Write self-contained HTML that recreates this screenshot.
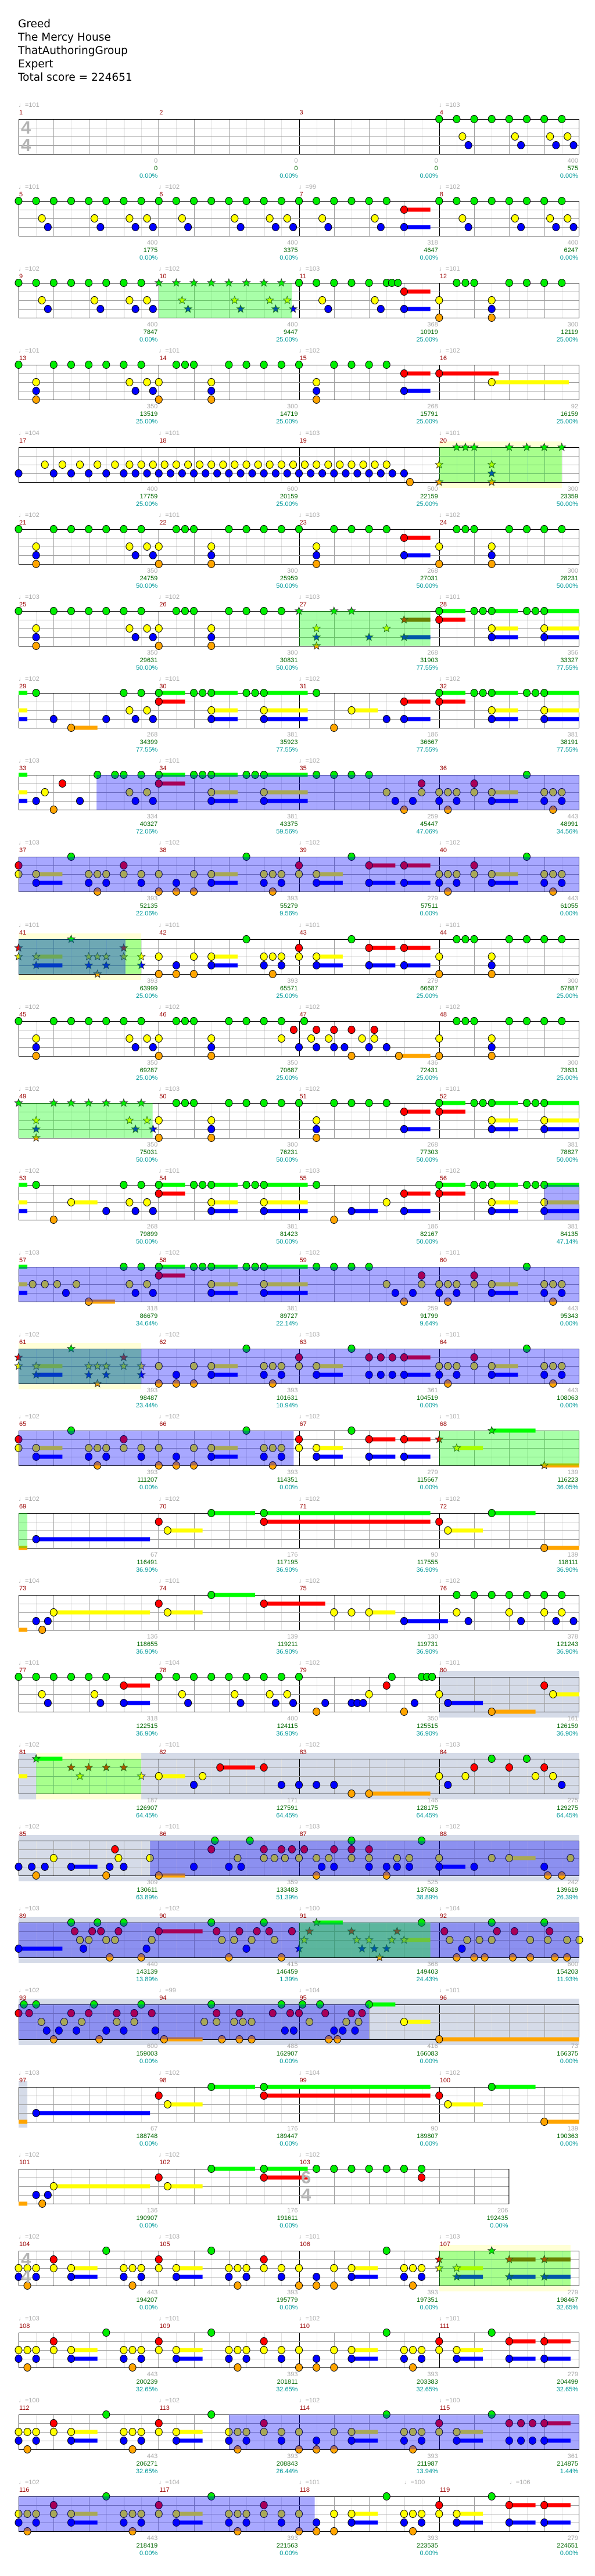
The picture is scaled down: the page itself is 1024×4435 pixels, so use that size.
<!DOCTYPE html>
<html><head><meta charset="utf-8">
<style>
html,body{margin:0;padding:0;background:#fff;width:1024px;height:4435px;overflow:hidden;position:relative}
#g{position:absolute;left:0;top:0;z-index:0}
.t{position:absolute;left:31px;top:30px;font:18.5px/23px "DejaVu Sans",sans-serif;color:#000;z-index:2}
.r{position:absolute;left:32px;width:965px;height:1px;z-index:2}
.m{position:absolute;top:0;width:241.25px;height:1px}
.m:nth-child(2){left:241.25px}.m:nth-child(3){left:482.5px}.m:nth-child(4){left:723.75px}
.m i{position:absolute;left:0;top:-30px;font:11px/12px "Liberation Sans","DejaVu Sans",sans-serif;color:#aaa;font-style:normal;white-space:nowrap}
.m b{position:absolute;left:1px;top:-17px;font:11px/12px "Liberation Sans",sans-serif;color:#900;font-weight:normal}
.m p{position:absolute;right:2px;top:66px;margin:0;text-align:right;font:11px/13px "Liberation Sans",sans-serif;color:#aaa;white-space:nowrap}
.m p em{color:#060;font-style:normal}.m p u{color:#099;text-decoration:none}
.ts{position:absolute;font:bold 31px/30px "Liberation Sans",sans-serif;color:#b4b4b4;z-index:3}
</style></head><body>
<svg id="g" width="1024" height="4435" xmlns="http://www.w3.org/2000/svg"></svg>
<div class="t">Greed<br>The Mercy House<br>ThatAuthoringGroup<br>Expert<br>Total score = 224651</div>
<div class="ts" style="left:36px;top:205px">4<br>4</div>
<div class="ts" style="left:518px;top:3734px">6<br>4</div>
<div class="ts" style="left:36px;top:3875px">4<br>4</div>

<div class="r" style="top:205px"><div class="m"><i>♩=101</i><b>1</b><p>0<br><em>0</em><br><u>0.00%</u></p></div><div class="m"><b>2</b><p>0<br><em>0</em><br><u>0.00%</u></p></div><div class="m"><b>3</b><p>0<br><em>0</em><br><u>0.00%</u></p></div><div class="m"><i>♩=103</i><b>4</b><p>400<br><em>575</em><br><u>0.00%</u></p></div></div>
<div class="r" style="top:346px"><div class="m"><i>♩=101</i><b>5</b><p>400<br><em>1775</em><br><u>0.00%</u></p></div><div class="m"><i>♩=102</i><b>6</b><p>400<br><em>3375</em><br><u>0.00%</u></p></div><div class="m"><i>♩=99</i><b>7</b><p>318<br><em>4647</em><br><u>0.00%</u></p></div><div class="m"><i>♩=102</i><b>8</b><p>400<br><em>6247</em><br><u>0.00%</u></p></div></div>
<div class="r" style="top:487px"><div class="m"><i>♩=102</i><b>9</b><p>400<br><em>7847</em><br><u>0.00%</u></p></div><div class="m"><i>♩=102</i><b>10</b><p>400<br><em>9447</em><br><u>25.00%</u></p></div><div class="m"><i>♩=103</i><b>11</b><p>368<br><em>10919</em><br><u>25.00%</u></p></div><div class="m"><i>♩=101</i><b>12</b><p>300<br><em>12119</em><br><u>25.00%</u></p></div></div>
<div class="r" style="top:628px"><div class="m"><i>♩=101</i><b>13</b><p>350<br><em>13519</em><br><u>25.00%</u></p></div><div class="m"><i>♩=101</i><b>14</b><p>300<br><em>14719</em><br><u>25.00%</u></p></div><div class="m"><i>♩=102</i><b>15</b><p>268<br><em>15791</em><br><u>25.00%</u></p></div><div class="m"><i>♩=102</i><b>16</b><p>92<br><em>16159</em><br><u>25.00%</u></p></div></div>
<div class="r" style="top:770px"><div class="m"><i>♩=104</i><b>17</b><p>400<br><em>17759</em><br><u>25.00%</u></p></div><div class="m"><i>♩=101</i><b>18</b><p>600<br><em>20159</em><br><u>25.00%</u></p></div><div class="m"><i>♩=103</i><b>19</b><p>500<br><em>22159</em><br><u>25.00%</u></p></div><div class="m"><i>♩=101</i><b>20</b><p>300<br><em>23359</em><br><u>50.00%</u></p></div></div>
<div class="r" style="top:911px"><div class="m"><i>♩=102</i><b>21</b><p>350<br><em>24759</em><br><u>50.00%</u></p></div><div class="m"><i>♩=101</i><b>22</b><p>300<br><em>25959</em><br><u>50.00%</u></p></div><div class="m"><i>♩=103</i><b>23</b><p>268<br><em>27031</em><br><u>50.00%</u></p></div><div class="m"><i>♩=102</i><b>24</b><p>300<br><em>28231</em><br><u>50.00%</u></p></div></div>
<div class="r" style="top:1052px"><div class="m"><i>♩=103</i><b>25</b><p>350<br><em>29631</em><br><u>50.00%</u></p></div><div class="m"><i>♩=102</i><b>26</b><p>300<br><em>30831</em><br><u>50.00%</u></p></div><div class="m"><i>♩=103</i><b>27</b><p>268<br><em>31903</em><br><u>77.55%</u></p></div><div class="m"><i>♩=101</i><b>28</b><p>356<br><em>33327</em><br><u>77.55%</u></p></div></div>
<div class="r" style="top:1193px"><div class="m"><i>♩=102</i><b>29</b><p>268<br><em>34399</em><br><u>77.55%</u></p></div><div class="m"><i>♩=101</i><b>30</b><p>381<br><em>35923</em><br><u>77.55%</u></p></div><div class="m"><i>♩=102</i><b>31</b><p>186<br><em>36667</em><br><u>77.55%</u></p></div><div class="m"><i>♩=102</i><b>32</b><p>381<br><em>38191</em><br><u>77.55%</u></p></div></div>
<div class="r" style="top:1334px"><div class="m"><i>♩=103</i><b>33</b><p>334<br><em>40327</em><br><u>72.06%</u></p></div><div class="m"><i>♩=101</i><b>34</b><p>381<br><em>43375</em><br><u>59.56%</u></p></div><div class="m"><i>♩=102</i><b>35</b><p>259<br><em>45447</em><br><u>47.06%</u></p></div><div class="m"><b>36</b><p>443<br><em>48991</em><br><u>34.56%</u></p></div></div>
<div class="r" style="top:1475px"><div class="m"><i>♩=103</i><b>37</b><p>393<br><em>52135</em><br><u>22.06%</u></p></div><div class="m"><i>♩=102</i><b>38</b><p>393<br><em>55279</em><br><u>9.56%</u></p></div><div class="m"><i>♩=102</i><b>39</b><p>279<br><em>57511</em><br><u>0.00%</u></p></div><div class="m"><i>♩=102</i><b>40</b><p>443<br><em>61055</em><br><u>0.00%</u></p></div></div>
<div class="r" style="top:1617px"><div class="m"><i>♩=101</i><b>41</b><p>393<br><em>63999</em><br><u>25.00%</u></p></div><div class="m"><i>♩=101</i><b>42</b><p>393<br><em>65571</em><br><u>25.00%</u></p></div><div class="m"><i>♩=101</i><b>43</b><p>279<br><em>66687</em><br><u>25.00%</u></p></div><div class="m"><i>♩=101</i><b>44</b><p>300<br><em>67887</em><br><u>25.00%</u></p></div></div>
<div class="r" style="top:1758px"><div class="m"><i>♩=102</i><b>45</b><p>350<br><em>69287</em><br><u>25.00%</u></p></div><div class="m"><i>♩=102</i><b>46</b><p>350<br><em>70687</em><br><u>25.00%</u></p></div><div class="m"><i>♩=102</i><b>47</b><p>436<br><em>72431</em><br><u>25.00%</u></p></div><div class="m"><i>♩=102</i><b>48</b><p>300<br><em>73631</em><br><u>25.00%</u></p></div></div>
<div class="r" style="top:1899px"><div class="m"><i>♩=102</i><b>49</b><p>350<br><em>75031</em><br><u>50.00%</u></p></div><div class="m"><i>♩=103</i><b>50</b><p>300<br><em>76231</em><br><u>50.00%</u></p></div><div class="m"><i>♩=102</i><b>51</b><p>268<br><em>77303</em><br><u>50.00%</u></p></div><div class="m"><i>♩=101</i><b>52</b><p>381<br><em>78827</em><br><u>50.00%</u></p></div></div>
<div class="r" style="top:2040px"><div class="m"><i>♩=102</i><b>53</b><p>268<br><em>79899</em><br><u>50.00%</u></p></div><div class="m"><i>♩=101</i><b>54</b><p>381<br><em>81423</em><br><u>50.00%</u></p></div><div class="m"><i>♩=103</i><b>55</b><p>186<br><em>82167</em><br><u>50.00%</u></p></div><div class="m"><i>♩=102</i><b>56</b><p>381<br><em>84135</em><br><u>47.14%</u></p></div></div>
<div class="r" style="top:2181px"><div class="m"><i>♩=103</i><b>57</b><p>318<br><em>86679</em><br><u>34.64%</u></p></div><div class="m"><i>♩=102</i><b>58</b><p>381<br><em>89727</em><br><u>22.14%</u></p></div><div class="m"><i>♩=102</i><b>59</b><p>259<br><em>91799</em><br><u>9.64%</u></p></div><div class="m"><i>♩=101</i><b>60</b><p>443<br><em>95343</em><br><u>0.00%</u></p></div></div>
<div class="r" style="top:2322px"><div class="m"><i>♩=102</i><b>61</b><p>393<br><em>98487</em><br><u>23.44%</u></p></div><div class="m"><i>♩=102</i><b>62</b><p>393<br><em>101631</em><br><u>10.94%</u></p></div><div class="m"><i>♩=103</i><b>63</b><p>361<br><em>104519</em><br><u>0.00%</u></p></div><div class="m"><i>♩=101</i><b>64</b><p>443<br><em>108063</em><br><u>0.00%</u></p></div></div>
<div class="r" style="top:2463px"><div class="m"><i>♩=102</i><b>65</b><p>393<br><em>111207</em><br><u>0.00%</u></p></div><div class="m"><i>♩=102</i><b>66</b><p>393<br><em>114351</em><br><u>0.00%</u></p></div><div class="m"><i>♩=102</i><b>67</b><p>279<br><em>115667</em><br><u>0.00%</u></p></div><div class="m"><i>♩=101</i><b>68</b><p>139<br><em>116223</em><br><u>36.05%</u></p></div></div>
<div class="r" style="top:2605px"><div class="m"><i>♩=102</i><b>69</b><p>67<br><em>116491</em><br><u>36.90%</u></p></div><div class="m"><i>♩=102</i><b>70</b><p>176<br><em>117195</em><br><u>36.90%</u></p></div><div class="m"><i>♩=102</i><b>71</b><p>90<br><em>117555</em><br><u>36.90%</u></p></div><div class="m"><i>♩=102</i><b>72</b><p>139<br><em>118111</em><br><u>36.90%</u></p></div></div>
<div class="r" style="top:2746px"><div class="m"><i>♩=104</i><b>73</b><p>136<br><em>118655</em><br><u>36.90%</u></p></div><div class="m"><i>♩=101</i><b>74</b><p>139<br><em>119211</em><br><u>36.90%</u></p></div><div class="m"><i>♩=102</i><b>75</b><p>130<br><em>119731</em><br><u>36.90%</u></p></div><div class="m"><i>♩=102</i><b>76</b><p>378<br><em>121243</em><br><u>36.90%</u></p></div></div>
<div class="r" style="top:2887px"><div class="m"><i>♩=101</i><b>77</b><p>318<br><em>122515</em><br><u>36.90%</u></p></div><div class="m"><i>♩=104</i><b>78</b><p>400<br><em>124115</em><br><u>36.90%</u></p></div><div class="m"><i>♩=102</i><b>79</b><p>350<br><em>125515</em><br><u>36.90%</u></p></div><div class="m"><i>♩=101</i><b>80</b><p>161<br><em>126159</em><br><u>36.90%</u></p></div></div>
<div class="r" style="top:3028px"><div class="m"><i>♩=102</i><b>81</b><p>187<br><em>126907</em><br><u>64.45%</u></p></div><div class="m"><i>♩=101</i><b>82</b><p>171<br><em>127591</em><br><u>64.45%</u></p></div><div class="m"><i>♩=102</i><b>83</b><p>146<br><em>128175</em><br><u>64.45%</u></p></div><div class="m"><i>♩=103</i><b>84</b><p>275<br><em>129275</em><br><u>64.45%</u></p></div></div>
<div class="r" style="top:3169px"><div class="m"><i>♩=102</i><b>85</b><p>309<br><em>130611</em><br><u>63.89%</u></p></div><div class="m"><i>♩=101</i><b>86</b><p>359<br><em>133483</em><br><u>51.39%</u></p></div><div class="m"><i>♩=103</i><b>87</b><p>525<br><em>137683</em><br><u>38.89%</u></p></div><div class="m"><i>♩=102</i><b>88</b><p>242<br><em>139619</em><br><u>26.39%</u></p></div></div>
<div class="r" style="top:3310px"><div class="m"><i>♩=103</i><b>89</b><p>440<br><em>143139</em><br><u>13.89%</u></p></div><div class="m"><i>♩=102</i><b>90</b><p>415<br><em>146459</em><br><u>1.39%</u></p></div><div class="m"><i>♩=100</i><b>91</b><p>368<br><em>149403</em><br><u>24.43%</u></p></div><div class="m"><i>♩=104</i><b>92</b><p>600<br><em>154203</em><br><u>11.93%</u></p></div></div>
<div class="r" style="top:3451px"><div class="m"><i>♩=102</i><b>93</b><p>600<br><em>159003</em><br><u>0.00%</u></p></div><div class="m"><i>♩=99</i><b>94</b><p>488<br><em>162907</em><br><u>0.00%</u></p></div><div class="m"><i>♩=104</i><b>95</b><p>416<br><em>166083</em><br><u>0.00%</u></p></div><div class="m"><i>♩=101</i><b>96</b><p>73<br><em>166375</em><br><u>0.00%</u></p></div></div>
<div class="r" style="top:3593px"><div class="m"><i>♩=103</i><b>97</b><p>67<br><em>188748</em><br><u>0.00%</u></p></div><div class="m"><i>♩=102</i><b>98</b><p>176<br><em>189447</em><br><u>0.00%</u></p></div><div class="m"><i>♩=104</i><b>99</b><p>90<br><em>189807</em><br><u>0.00%</u></p></div><div class="m"><i>♩=102</i><b>100</b><p>139<br><em>190363</em><br><u>0.00%</u></p></div></div>
<div class="r" style="top:3734px"><div class="m"><i>♩=102</i><b>101</b><p>136<br><em>190907</em><br><u>0.00%</u></p></div><div class="m"><i>♩=102</i><b>102</b><p>176<br><em>191611</em><br><u>0.00%</u></p></div><div class="m" style="width:361.9px"><i>♩=102</i><b>103</b><p>206<br><em>192435</em><br><u>0.00%</u></p></div></div>
<div class="r" style="top:3875px"><div class="m"><i>♩=102</i><b>104</b><p>443<br><em>194207</em><br><u>0.00%</u></p></div><div class="m"><i>♩=103</i><b>105</b><p>393<br><em>195779</em><br><u>0.00%</u></p></div><div class="m"><i>♩=101</i><b>106</b><p>393<br><em>197351</em><br><u>0.00%</u></p></div><div class="m"><i>♩=103</i><b>107</b><p>279<br><em>198467</em><br><u>32.65%</u></p></div></div>
<div class="r" style="top:4016px"><div class="m"><i>♩=103</i><b>108</b><p>443<br><em>200239</em><br><u>32.65%</u></p></div><div class="m"><i>♩=101</i><b>109</b><p>393<br><em>201811</em><br><u>32.65%</u></p></div><div class="m"><i>♩=102</i><b>110</b><p>393<br><em>203383</em><br><u>32.65%</u></p></div><div class="m"><i>♩=101</i><b>111</b><p>279<br><em>204499</em><br><u>32.65%</u></p></div></div>
<div class="r" style="top:4157px"><div class="m"><i>♩=100</i><b>112</b><p>443<br><em>206271</em><br><u>32.65%</u></p></div><div class="m"><i>♩=102</i><b>113</b><p>393<br><em>208843</em><br><u>26.44%</u></p></div><div class="m"><i>♩=102</i><b>114</b><p>393<br><em>211987</em><br><u>13.94%</u></p></div><div class="m"><i>♩=100</i><b>115</b><p>361<br><em>214875</em><br><u>1.44%</u></p></div></div>
<div class="r" style="top:4298px"><div class="m"><i>♩=102</i><b>116</b><p>443<br><em>218419</em><br><u>0.00%</u></p></div><div class="m"><i>♩=104</i><b>117</b><p>393<br><em>221563</em><br><u>0.00%</u></p></div><div class="m"><i>♩=101</i><i style="left:181px">♩=100</i><b>118</b><p>393<br><em>223535</em><br><u>0.00%</u></p></div><div class="m"><i style="left:121px">♩=106</i><b>119</b><p>279<br><em>224651</em><br><u>0.00%</u></p></div></div>

<script>
(function(){
var X0=32,HW=965/32;
var col=['#00ee00','#ff0000','#ffff00','#0000ff','#ffa500'];
var bar=['#00ff00','#ff0000','#ffff00','#0000ff','#ffa500'];
var L={G:0,R:1,Y:2,B:3,O:4};
function A(o){return 'G'+o+':'+(o+7)+' Y'+(o+1.33)+' Y'+(o+4.33)+' Y'+(o+6.33)+' Y'+(o+7.33)+' B'+(o+1.67)+' B'+(o+4.67)+' B'+(o+6.67)+' B'+(o+7.67)+' ';}
var B2='G0 G2:7 G9 G9.5 G10 G12:15 Y1 Y6.33 Y7.33 Y8 Y11 B1 B6.67 B7.67 B11 O1 O8 O11 ';
var M24=' G25 G25.5 G26 G28:31 Y24 Y27 B27 O24 O27 ';
var C=' G24-25.5 G26 G26.5 G27-28.5 G29 G29.5 G30-32 R24-25.5 Y27-28.5 Y30-32 B27-28.5 B30-32 ';
var S='g3 r0 r6 y0 y1-2.5 y4 y4.5 y5 y6 y7 b1-2.5 b4 b5 b7 o4.5 ';
var R18='~O0-0.5 B1-7.5 R8 R14-23.5 R24 Y8.5-10.5 Y24.5-26.5 G11-13.5 G14-23.5 G27-29.5 O30-32';
var E='Y0 Y0.5 Y1 Y2 Y3-4.5 Y6 Y6.5 Y7 Y8 Y9-10.5 Y12 Y12.5 Y13 Y14 Y15 Y16 Y18 Y19-20.5 Y22 Y22.5 Y23 B0 B1 B3-4.5 B6 B7 B9-10.5 B12 B13 B15 B17 B19-20.5 B22 B23 R2 R8 R14 G5 G11 G21 O0.5 O6.5 O12.5 O16 O17 O18 O22.5 ';
var y5='Y1.5 Y2.5 Y3.5 Y4.5 Y5.5 Y6.33 Y7 Y7.67 Y8.33 Y9 Y9.67 Y10.33 Y11 Y11.67 Y12.33 Y13 Y13.67 Y14.33 Y15 Y15.67 Y16.33 Y17 Y17.67 Y18.33 Y19 Y19.67 Y20.33 Y21 B0 B2 B3 B4 B5 B6 B6.67 B7.33 B8 B8.67 B9.33 B10 B10.67 B11.33 B12 B12.67 B13.33 B14 B14.67 B15.33 B16 B16.67 B17.33 B18 B18.67 B19.33 B20 B20.67 B21.33 B22 O22.33 ';
var D='G3 G13 G19 G29 R0 R6 R16 R20-21.5 R22-23.5 R26 Y0 Y1-2.5 Y4 Y4.5 Y5 Y6 Y7 Y8 Y10 Y11-12.5 Y14 Y14.5 Y15 Y16 Y17-18.5 Y24 Y24.5 Y25 Y26 Y27-28.5 Y30 Y30.5 Y31 B1-2.5 B4 B5 B7 B9 B11-12.5 B14 B15 B17-18.5 B20-21.5 B22-23.5 B24 B25 B27-28.5 B30 B31 O4.5 O8 O9 O10 O14.5 O24.5 O30.5';
var rows=[
 {n:A(24)},
 {n:A(0)+A(8)+'G16:21 Y17.33 Y20.33 B17.67 B20.67 R22-23.5 B22-23.5 '+A(24)},
 {n:'G0:7 Y1.33 Y4.33 Y6.33 Y7.33 B1.67 B4.67 B6.67 B7.67 g8:15 y9.33 y12.33 y14.33 y15.33 b9.67 b12.67 b14.67 b15.67 G16:21 G21.3 G21.65 Y17.33 Y20.33 B17.67 B20.67 R22-23.5 B22-23.5'+M24,r:[['g',8,15.6]]},
 {n:B2+'G16 G18:21 Y17 B17 O17 B22-23.5 R22-23.5 R24-27.4 Y27-31.4'},
 {n:y5+'g25 g25.5 g26 g28 g29 g30 g31 y24 y27 b27 o24 o27',r:[['y',24,31],['g',24,31]]},
 {n:B2+'G16 G18:21 Y17 B17 O17 B22-23.5 R22-23.5'+M24},
 {n:B2+'g16 g18 g19 y17 y21 b17 b20 b22-23.5 r22-23.5 o17'+C,r:[['g',16,23.5]]},
 {n:'~G0-0.5 G1 G6 G7 G8-9.5 G10 G10.5 G11-12.5 G13 G13.5 G14-16.5 G17 ~Y0-0.5 Y6.33 Y7.33 Y11-12.5 Y14-16.5 Y19-20.5 ~B0-0.5 B2 B5 B6.67 B7.67 B11-12.5 B14-16.5 B21 B22-23.5 R8-9.5 R22-23.5 O3-4.5 O18'+C},
 {n:'~G0-0.5 G4.5 G5.5 G6 G7 G8-9.5 G10 G10.5 G11-12.5 G13 G13.5 G14-16.5 G17:20 G29 R2.5 R8-9.5 R23 R26 ~Y0-0.5 Y1.5 Y6.33 Y7.33 Y11-12.5 Y14-16.5 Y21 Y23 Y24 Y24.5 Y25 Y26 Y27-28.5 Y30 Y30.5 Y31 ~B0-0.5 B1 B3.5 B6.67 B7.67 B11-12.5 B14-16.5 B21.5 B22.5 B24 B25 B27-28.5 B30 B31 O2 O22 O24.5 O30.5',r:[['b',4.45,32]]},
 {n:D,r:[['b',0,32]]},
 {n:S+'G13 G19 G25 G25.5 G26 G28:31 R16 R20-21.5 R22-23.5 Y8 Y10 Y11-12.5 Y14 Y14.5 Y15 Y16 Y17-18.5 Y24 Y27 B9 B11-12.5 B14 B15 B17-18.5 B20-21.5 B22-23.5 B27 O8 O9 O10 O14.5 O24 O27',r:[['y',0,7],['g',0,7],['b',0,6.1]]},
 {n:'G0 G2:7 G9 G9.5 G10 G12:15 G16.3 Y1 Y6.33 Y7.33 Y8 Y11 Y15 Y16.7 Y17.7 Y19.6 Y20.3 B1 B6.67 B7.67 B11 B16 B17 B18 B18.6 B20 B21 O1 O8 O11 O19 O21.7-23.5 R15.7 R17 R18 R19 R20.3'+M24},
 {n:'g0 g2:7 y1 y6.33 y7.33 b1 b6.67 b7.67 o1 G9 G9.5 G10 G12:16 G18:21 Y8 Y11 Y17 B11 B17 B22-23.5 R22-23.5 O8 O11 O17'+C,r:[['g',0,7.65]]},
 {n:'~G0-0.5 G1 G6 G7 G8-9.5 G10 G10.5 G11-12.5 G13 G13.5 G14-16.5 G17 ~Y0-0.5 Y3-4.5 Y6.33 Y7.33 Y11-12.5 Y14-16.5 Y21 ~B0-0.5 B5 B6.67 B7.67 B11-12.5 B14-16.5 B19-20.5 B22-23.5 R8-9.5 R22-23.5 O2 O18'+C,r:[['b',30,32]]},
 {n:'~G0-0.5 G6 G7 G8-9.5 G10 G10.5 G11-12.5 G13 G13.5 G14-16.5 G17:20 G29 R8-9.5 R23 R26 ~Y0-0.5 Y0.8 Y1.5 Y2.2 Y3.3 Y6.33 Y7.33 Y11-12.5 Y14-16.5 Y21 Y23 Y24 Y24.5 Y25 Y26 Y27-28.5 Y30 Y30.5 Y31 ~B0-0.5 B2.7 B6.67 B7.67 B11-12.5 B14-16.5 B21.5 B22.5 B24 B25 B27-28.5 B30 B31 O4-5.5 O22 O24.5 O30.5',r:[['b',0,32]]},
 {n:S+'G13 G19 G29 R16 R20 R20.67 R21.33 R22-23.5 R26 Y8 Y10 Y11-12.5 Y14 Y14.5 Y15 Y16 Y17-18.5 Y24 Y24.5 Y25 Y26 Y27-28.5 Y30 Y30.5 Y31 B9 B11-12.5 B14 B15 B17-18.5 B20 B20.67 B21.33 B22-23.5 B24 B25 B27-28.5 B30 B31 O8 O9 O10 O14.5 O24.5 O30.5',r:[['y',0,7],['g',0,7],['b',0,32]]},
 {n:'G3 G13 G19 R0 R6 R16 R20-21.5 R22-23.5 Y0 Y1-2.5 Y4 Y4.5 Y5 Y6 Y7 Y8 Y10 Y11-12.5 Y14 Y14.5 Y15 Y16 Y17-18.5 B1-2.5 B4 B5 B7 B9 B11-12.5 B14 B15 B17-18.5 B20-21.5 B22-23.5 O4.5 O8 O9 O10 O14.5 g27-29.5 r24 y25-26.5 o30-32',r:[['b',0,15.7],['g',24,32]]},
 {n:R18,r:[['g',0,0.5]]},
 {n:'~O0-0.5 O1.35 B1 B1.67 Y2-7.5 Y8.5-10.5 Y18 Y19 Y20-21.5 Y25 Y28 Y30 Y31 G11-13.5 G25:31 R8 R14-17.5 B22-24.5 B25.67 B28.67 B30.67 B31.67'},
 {n:'G0:5 G8:16 G21.3 G23 G23.3 G23.6 R6-7.5 R21 R30 Y1.33 Y4.33 Y9.33 Y12.33 Y14.33 Y15.33 Y20 Y24 Y30.5-32 B1.67 B4.67 B6-7.5 B9.67 B12.67 B14.67 B15.67 B17.5 B19 B19.33 B19.67 B22.6 B24.5-26.5 O17 O22 O27-29.5',r:[['x',24,32]]},
 {n:'~Y0-0.5 g1-2.5 r3 r4 r5 r6 y3.5 y7 Y8-9.5 Y10.5 B10 B15 B16 B17 B18 R11.5-13.5 R14 O19 O20-23.5 Y24 Y25.5 Y29.5 Y30.5 R26 R28 R30 G27 G29 B24.5 B31',r:[['x',0,32],['y',1,7],['g',1,7]]},
 {n:'B0 B0.75 B1.5 B3-4.5 B5.2 B6 Y2 Y5.7 Y7.5 R5.5 O1 O5 O8-9.5 G11.2 G13.2 G19 G23 R11 R14 R15 R15.6 R16.3 R18 R19 R20 Y12.5 Y14 Y14.6 Y15.2 Y16 Y17 Y17.7 Y19 Y20 Y21.6 Y22.3 Y24 Y27 Y28-29.5 Y31.5 B10 B12 B12.7 B17.3 B18 B20 B21 B21.6 B22.3 B24-25.5 B26 B30 O17 O21 O30.2 O31',r:[['x',0,32],['b',7.5,32]]},
 {n:'B0-2.5 G3 G4.5 G6 G11 G14 G23 G27 G30 R3.2 R4.2 R4.7 R5.7 R8-10.5 R11.3 R12.6 R13.6 R14.3 R15.6 R24.3 R27.3 R28.3 R30.3 Y3.5 Y4 Y5 Y5.5 Y7.6 Y11.6 Y12.3 Y13.3 Y14.6 Y24.6 Y25.6 Y26.3 Y27 Y29.2 Y30.2 Y31.3 Y32 B3.7 B7.3 B13 B25.3 O5.2 O7 O12 O15 O25 O26 O26.6 O28.2 O29.2 O30.6 O31.3 g17-18.5 r16.6 r19 r21.6 y16.3 y19.3 y20 y21.3 y22-23.5 b16 b19.6 b20.3 b21 o20.6',r:[['x',0,32],['b',0,32],['g',16,23.5]]},
 {n:'G0.3 G1 G4.3 G7 G11 G15 G16.2 G17.2 G20-21.5 R0 R0.6 R3 R4 R5.6 R6.6 R7.6 R11.3 R12.6 R14.5 R15.5 R16 R17.5 R19 R19.6 Y1.3 Y2.6 Y3.6 Y5.6 Y6.6 Y10.6 Y11.3 Y12.3 Y12.8 Y13.3 Y16.6 Y18.7 Y19.4 Y22-23.5 B1.6 B2.3 B3.3 B5 B6 B7.8 B15.2 B15.7 B18 B18.5 B19.2 O2 O4.6 O8.3-10.5 O11.6 O12.6 O13.3 O17.7 O18.2 O24-32',r:[['x',0,32],['b',0,20]]},
 {n:R18,r:[['x',0,0.5]]},
 {n:'~O0-0.5 O1.35 B1 B1.67 Y2-7.5 Y8.5-10.5 R8 R14-16.5 R23 G11-13.5 G14-16.5 G17:23',H:28},
 {n:E+'r24 r28-29.5 r30-31.5 y24 y25-26.5 b25-26.5 b28-29.5 b30-31.5 g27',r:[['y',24,31.5],['g',24,31.5]]},
 {n:E+'R24 R28-29.5 R30-31.5 Y24 Y25-26.5 B25-26.5 B28-29.5 B30-31.5 G27'},
 {n:E+'R24 R28 R28.67 R29.33 R30-31.5 Y24 Y25-26.5 B25-26.5 B28 B28.67 B29.33 B30-31.5 G27',r:[['b',12,32]]},
 {n:E+'R24 R28-29.5 R30-31.5 Y24 Y25-26.5 B25-26.5 B28-29.5 B30-31.5 G27',r:[['b',0,16.9]]}
];
function xx(h){return X0+h*HW;}
var bg='',gr='',bars='',nts='',ov='';
function star(cx,cy,c){var p=[];for(var k=0;k<10;k++){var a=-Math.PI/2+k*Math.PI/5,rr=(k%2)?3:7;p.push((cx+rr*Math.cos(a)).toFixed(1)+','+(cy+rr*Math.sin(a)).toFixed(1));}return '<polygon points="'+p.join(' ')+'" fill="'+c+'" stroke="#222" stroke-width="0.8"/>';}
rows.forEach(function(R,i){
 var T=Math.round(205+141.15*i),H=R.H||32,W=H*HW;
 (R.r||[]).forEach(function(g){var x1=xx(g[1]),w=(g[2]-g[1])*HW;
  if(g[0]=='x')bg+='<rect x="'+x1+'" y="'+(T-10)+'" width="'+w+'" height="80" fill="#d5dbe8"/>';
  if(g[0]=='y')bg+='<rect x="'+x1+'" y="'+(T-10)+'" width="'+w+'" height="80" fill="#ffffd6"/>';
  if(g[0]=='b')ov+='<rect x="'+x1+'" y="'+T+'" width="'+w+'" height="60" fill="rgba(0,0,255,0.34)"/>';
  if(g[0]=='g')ov+='<rect x="'+x1+'" y="'+T+'" width="'+w+'" height="60" fill="rgba(0,255,0,0.34)"/>';
 });
 for(var h=1;h<H;h++){var x=Math.round(xx(h))+0.5;var ms=(H==28)?(h==8||h==16):(h%8==0);
  var c=ms?'#000':(h%2==0?'#a0a0a0':'#e2e2e2');gr+='<line x1="'+x+'" y1="'+T+'" x2="'+x+'" y2="'+(T+60)+'" stroke="'+c+'"/>';}
 for(var k=1;k<4;k++)gr+='<line x1="'+X0+'" y1="'+(T+k*15+0.5)+'" x2="'+(X0+W)+'" y2="'+(T+k*15+0.5)+'" stroke="#a0a0a0"/>';
 gr+='<rect x="'+(X0+0.5)+'" y="'+(T+0.5)+'" width="'+(W-1)+'" height="60" fill="none" stroke="#000"/>';
 R.n.trim().split(/\s+/).forEach(function(t){
  if(!t)return;var only=false;if(t[0]=='~'){only=true;t=t.slice(1);}
  var ch=t[0],st=(ch!=ch.toUpperCase()),ln=L[ch.toUpperCase()],rest=t.slice(1),y=T+ln*15,list=[],end=null;
  if(rest.indexOf(':')>=0){var ab=rest.split(':');for(var v=+ab[0];v<=+ab[1];v++)list.push(v);}
  else if(rest.indexOf('-')>=0){var ab2=rest.split('-');list=[+ab2[0]];end=+ab2[1];}
  else list=[+rest];
  list.forEach(function(p){var cx=xx(p);
   if(end!==null){var bc=bar[ln];if(st&&ln==1)bc='#a04000';bars+='<rect x="'+cx+'" y="'+(y-3.5)+'" width="'+((end-p)*HW)+'" height="7" fill="'+bc+'"/>';}
   if(only)return;
   if(st)nts+=star(cx,y,col[ln]);
   else nts+='<ellipse cx="'+cx+'" cy="'+y+'" rx="6" ry="6.5" fill="'+col[ln]+'" stroke="#000" stroke-width="1"/>';
  });
 });
});
document.getElementById('g').innerHTML=bg+gr+bars+nts+ov;
})();
</script>
</body></html>
